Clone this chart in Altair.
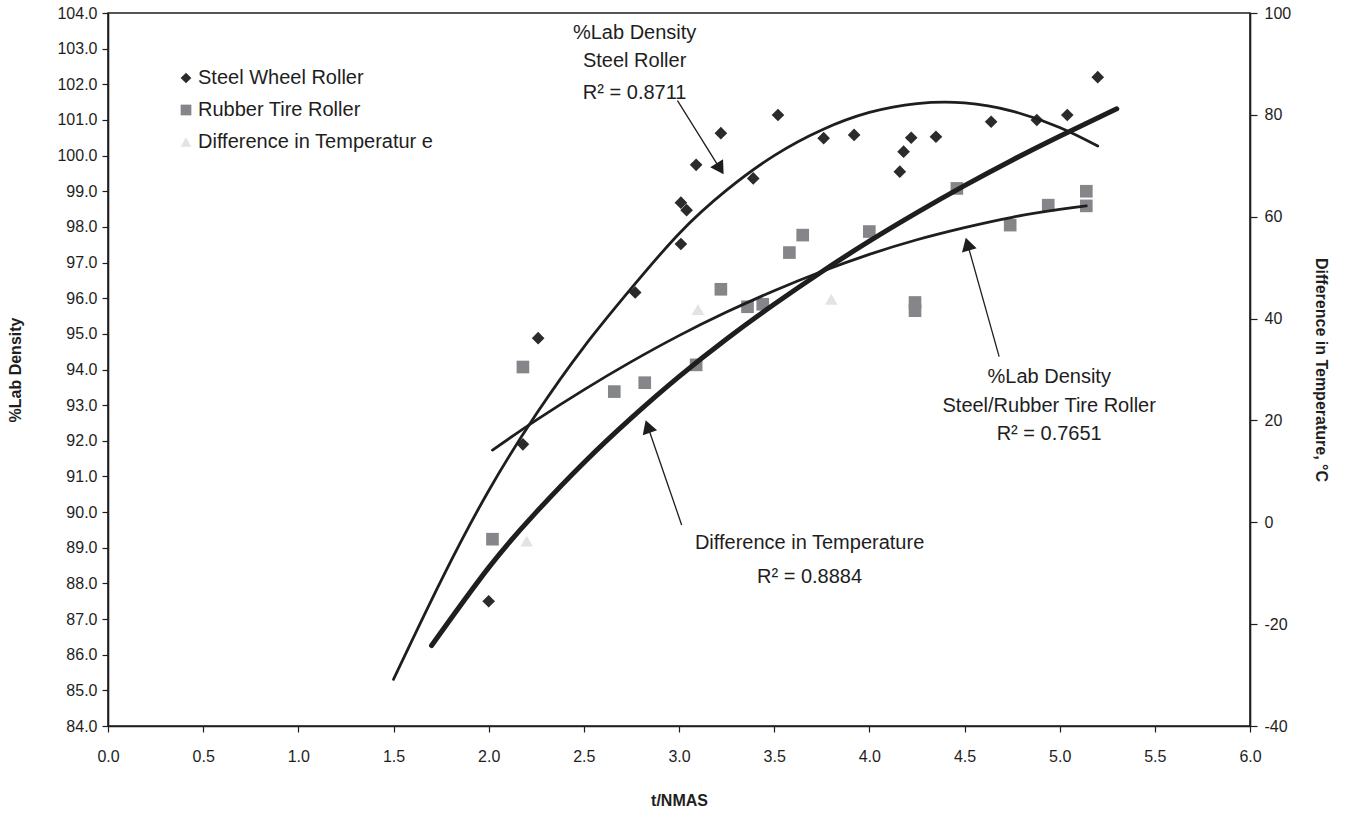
import altair as alt
import pandas as pd

# ---- measured data -------------------------------------------------------
series_names = ["Steel Wheel Roller", "Rubber Tire Roller", "Difference in Temperatur e"]

steel_x = [2.00, 2.18, 2.26, 2.77, 3.01, 3.01, 3.04, 3.09, 3.22, 3.39, 3.52,
           3.76, 3.92, 4.16, 4.18, 4.22, 4.35, 4.64, 4.88, 5.04, 5.20]
steel_y = [87.5, 91.9, 94.88, 96.16, 97.52, 98.68, 98.47, 99.74, 100.63, 99.36, 101.14,
           100.49, 100.58, 99.55, 100.11, 100.50, 100.53, 100.95, 101.0, 101.14, 102.2]

rubber_x = [2.02, 2.18, 2.66, 2.82, 3.09, 3.22, 3.36, 3.44, 3.58, 3.65, 4.00,
            4.24, 4.24, 4.46, 4.74, 4.94, 5.14, 5.14]
rubber_y = [89.24, 94.07, 93.38, 93.63, 94.13, 96.25, 95.76, 95.83, 97.28, 97.77, 97.87,
            95.88, 95.65, 99.08, 98.05, 98.61, 99.0, 98.59]

temp_x = [2.20, 3.10, 3.80]
temp_y = [-3.7, 41.8, 43.8]

# ---- trend curves --------------------------------------------------------
steel_fit_x = [1.5, 1.75, 2.0, 2.25, 2.5, 2.75, 3.0, 3.25, 3.5, 3.75, 4.0, 4.25, 4.5, 4.75, 5.0, 5.2]
steel_fit_y = [85.31, 88.08, 90.6, 92.75, 94.63, 96.28, 97.81, 99.03, 100.0, 100.72, 101.21,
               101.46, 101.48, 101.25, 100.79, 100.27]

rubber_fit_x = [2.02, 2.25, 2.5, 2.75, 3.0, 3.25, 3.5, 3.75, 4.0, 4.25, 4.5, 4.75, 5.0, 5.14]
rubber_fit_y = [91.74, 92.58, 93.43, 94.22, 94.95, 95.61, 96.21, 96.75, 97.23, 97.64, 97.98,
                98.27, 98.49, 98.59]

temp_fit_x = [1.7, 2.0, 2.25, 2.5, 2.75, 3.0, 3.25, 3.5, 3.75, 4.0, 4.25, 4.5, 4.75, 5.0, 5.3]
temp_fit_y = [-24.2, -8.9, 2.0, 11.7, 20.5, 28.6, 36.0, 42.8, 49.2, 55.2, 60.8, 66.1, 71.1, 75.8, 81.2]

# ---- annotation callouts -------------------------------------------------
note_text = ["%Lab Density", "Steel Roller", "R² = 0.8711",
             "%Lab Density", "Steel/Rubber Tire Roller", "R² = 0.7651",
             "Difference in Temperature", "R² = 0.8884"]
note_x = [2.767, 2.767, 2.767, 4.945, 4.945, 4.945, 3.686, 3.686]
note_y = [103.43, 102.66, 101.75, 93.79, 92.98, 92.19, 89.14, 88.18]

arrow_x = [2.992, 4.682, 3.014]
arrow_y = [101.54, 94.36, 89.64]
arrow_x2 = [3.216, 4.516, 2.836]
arrow_y2 = [99.63, 97.52, 92.40]
arrow_angle = [147.9, 344.3, 340.9]

x_ticks = [i * 0.5 for i in range(13)]
left_ticks = list(range(84, 105))
right_ticks = list(range(-40, 101, 20))

FONT = "Liberation Sans"
INK = "#1e1e1e"

pts_left = pd.DataFrame({
    "x": steel_x + rubber_x,
    "y": steel_y + rubber_y,
    "series": [series_names[0]] * len(steel_x) + [series_names[1]] * len(rubber_x),
})
pts_right = pd.DataFrame({"x": temp_x, "y": temp_y, "series": [series_names[2]] * len(temp_x)})
steel_fit = pd.DataFrame({"x": steel_fit_x, "y": steel_fit_y})
rubber_fit = pd.DataFrame({"x": rubber_fit_x, "y": rubber_fit_y})
temp_fit = pd.DataFrame({"x": temp_fit_x, "y": temp_fit_y})
notes = pd.DataFrame({"x": note_x, "y": note_y, "label": note_text})
arrows = pd.DataFrame({"x": arrow_x, "y": arrow_y, "x2": arrow_x2, "y2": arrow_y2, "angle": arrow_angle})

# ---- scales and axes -----------------------------------------------------
x_scale = alt.Scale(domain=[0, 6], nice=False, zero=False)
x_axis = alt.Axis(values=x_ticks, format=".1f", title="t/NMAS", tickSize=6,
                  labelPadding=16, titlePadding=28, labelFlush=False)
left_axis = alt.Axis(values=left_ticks, format=".1f", title="%Lab Density", orient="left",
                     tickSize=6, labelPadding=5, titlePadding=33, labelFlush=False)
right_axis = alt.Axis(values=right_ticks, title="Difference in Temperature, °C",
                      orient="right", tickSize=7, labelPadding=7, titlePadding=22,
                      labelFlush=False,
                      labelExpr="datum.value < 0 ? '-' + abs(datum.value) : '' + datum.value")
left_scale = alt.Scale(domain=[84, 104], nice=False, zero=False)
right_scale = alt.Scale(domain=[-40, 100], nice=False, zero=False)

x_enc = alt.X("x:Q", scale=x_scale, axis=x_axis)
y_left = alt.Y("y:Q", scale=left_scale, axis=left_axis)
y_right = alt.Y("y:Q", scale=right_scale, axis=right_axis)

legend = alt.Legend(orient="none", legendX=68, legendY=55, title=None, labelFontSize=20,
                    labelFont=FONT, labelColor=INK, symbolSize=115, rowPadding=12,
                    labelOffset=2, padding=0, symbolStrokeWidth=0, labelLimit=0)
shape_enc = alt.Shape("series:N", scale=alt.Scale(domain=series_names,
                      range=["diamond", "square", "triangle-up"]), legend=legend)
color_enc = alt.Color("series:N", scale=alt.Scale(domain=series_names,
                      range=["#2b2b2b", "#85868a", "#e2e3e5"]), legend=legend)

# ---- left-axis layers ----------------------------------------------------
left_points = alt.Chart(pts_left).mark_point(filled=True, opacity=1, size=160).encode(
    x=x_enc, y=y_left, shape=shape_enc, color=color_enc)
steel_line = alt.Chart(steel_fit).mark_line(color=INK, strokeWidth=2.8, interpolate="natural",
                                            strokeCap="round").encode(x=x_enc, y=y_left)
rubber_line = alt.Chart(rubber_fit).mark_line(color=INK, strokeWidth=2.8, interpolate="natural",
                                              strokeCap="round").encode(x=x_enc, y=y_left)
arrow_lines = alt.Chart(arrows).mark_rule(color=INK, strokeWidth=1.3).encode(
    x=x_enc, y=y_left, x2="x2:Q", y2="y2:Q")
arrow_heads = alt.Chart(arrows).mark_point(shape="triangle-up", filled=True, color=INK,
                                           opacity=1, size=230).encode(
    x=alt.X("x2:Q", scale=x_scale, axis=x_axis),
    y=alt.Y("y2:Q", scale=left_scale, axis=left_axis),
    angle=alt.Angle("angle:Q", scale=None))
note_marks = alt.Chart(notes).mark_text(font=FONT, fontSize=20, color=INK, align="center",
                                        baseline="middle").encode(
    x=x_enc, y=y_left, text="label:N")

left = alt.layer(left_points, steel_line, rubber_line, arrow_lines, arrow_heads, note_marks)

# ---- right-axis layers ---------------------------------------------------
right_points = alt.Chart(pts_right).mark_point(filled=True, opacity=1, size=160).encode(
    x=x_enc, y=y_right, shape=shape_enc, color=color_enc)
temp_line = alt.Chart(temp_fit).mark_line(color=INK, strokeWidth=5, interpolate="natural",
                                          strokeCap="round").encode(x=x_enc, y=y_right)
right = alt.layer(right_points, temp_line)

chart = alt.layer(left, right).resolve_scale(y="independent").properties(
    width=1142, height=713,
    autosize=alt.AutoSizeParams(type="none"),
    padding={"left": 108, "top": 13, "right": 99, "bottom": 87},
    background="white",
).configure_view(stroke="#1e1e1e", strokeWidth=1.6).configure_axis(
    labelFont=FONT, labelFontSize=16, labelColor=INK, titleFont=FONT, titleFontSize=16,
    titleFontWeight="bold", titleColor=INK, domainColor="#1e1e1e", domainWidth=1.6,
    tickColor="#1e1e1e", tickWidth=1.2, grid=False)

chart.save("out.html", embed_options={"renderer": "svg", "actions": False})
